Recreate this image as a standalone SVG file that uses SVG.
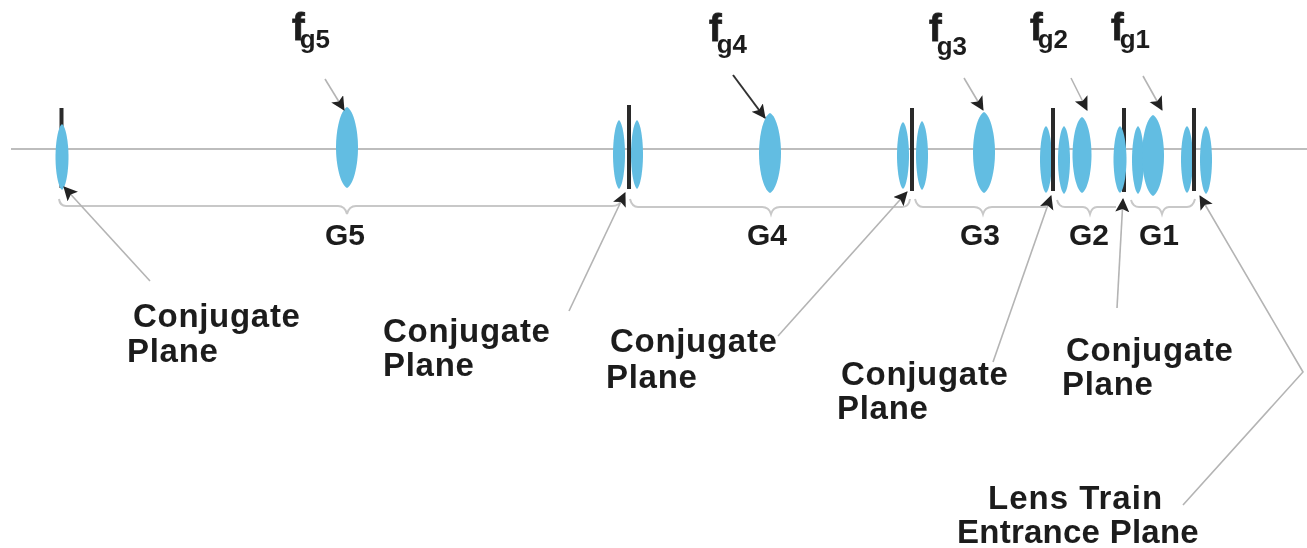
<svg xmlns="http://www.w3.org/2000/svg" width="1307" height="548" viewBox="0 0 1307 548">
<style>
text{font-family:"Liberation Sans",Arial,sans-serif;font-weight:700;fill:#1f1f1f}
.l{font-size:33px;letter-spacing:.7px}
.g{font-size:30px}
.f{font-size:38px;stroke:#1f1f1f;stroke-width:.8px}
.s{font-size:26px;stroke:none}
.lens{fill:#62bde2}
.bar{stroke:#2b2b2b;stroke-width:4;fill:none}
.ax{stroke:#bdbdbd;stroke-width:2;fill:none}
.br{stroke:#c8c8c8;stroke-width:2;fill:none}
.ln{stroke:#b4b4b4;stroke-width:1.6;fill:none}
.dk{stroke:#333;stroke-width:2;fill:none}
</style>
<defs>
<path id="lens" class="lens" d="M0 0C.6 .04 1 .28 1 .5C1 .72 .6 .96 0 1C-.6 .96 -1 .72 -1 .5C-1 .28 -.6 .04 0 0Z"/>
<marker id="a" markerUnits="userSpaceOnUse" markerWidth="16" markerHeight="16" refX="13" refY="7" orient="auto"><path d="M0 0L14 7L0 14L3 7Z" fill="#222"/></marker>
<filter id="b" x="-2%" y="-2%" width="104%" height="104%"><feGaussianBlur stdDeviation="0.7"/></filter>
</defs>
<g filter="url(#b)">
<path class="ax" d="M11 149H1307"/>
<g id="plane-5"><path class="bar" d="M61.500 108V188"/><use href="#lens" transform="translate(62 124) scale(6.500 66)"/></g>
<g id="lens-g5"><use href="#lens" transform="translate(347 107) scale(11 81)"/></g>
<g id="plane-4"><use href="#lens" transform="translate(619 120) scale(6 69)"/><use href="#lens" transform="translate(637 120) scale(6 69)"/><path class="bar" d="M629 105V189"/></g>
<g id="lens-g4"><use href="#lens" transform="translate(770 113) scale(11 80)"/></g>
<g id="plane-3"><use href="#lens" transform="translate(903 122) scale(6 67)"/><use href="#lens" transform="translate(922 121) scale(6 69)"/><path class="bar" d="M912 108V191"/></g>
<g id="lens-g3"><use href="#lens" transform="translate(984 112) scale(11 81)"/></g>
<g id="plane-2"><use href="#lens" transform="translate(1046 126) scale(6 67)"/><use href="#lens" transform="translate(1064 126) scale(6 68)"/><path class="bar" d="M1053 108V191"/></g>
<g id="lens-g2"><use href="#lens" transform="translate(1082 117) scale(9.500 76)"/></g>
<g id="plane-1"><path class="bar" d="M1124 108V192"/><use href="#lens" transform="translate(1120 126) scale(6.500 67)"/><use href="#lens" transform="translate(1138 126) scale(6 68)"/></g>
<g id="lens-g1"><use href="#lens" transform="translate(1153 115) scale(11 81)"/></g>
<g id="entrance-plane"><use href="#lens" transform="translate(1187 126) scale(6 67)"/><use href="#lens" transform="translate(1206 126) scale(6 68)"/><path class="bar" d="M1194 108V191"/></g>
<g id="connectors">
<path class="br" d="M59 199Q60 206 66 206H338Q345 206 347 214Q349 206 356 206H612Q620 206 622 199"/>
<path class="br" d="M630 199Q632 207 638 207H762Q769 207 771 214Q773 207 780 207H902Q909 207 910 199"/>
<path class="br" d="M915 199Q917 207 923 207H974Q981 207 983 214Q985 207 992 207H1046"/>
<path class="br" d="M1057 200Q1059 207 1065 207H1083Q1088 207 1090 214Q1092 207 1097 207H1116"/>
<path class="br" d="M1131 200Q1133 207 1139 207H1155Q1160 207 1162 214Q1164 207 1169 207H1187Q1193 207 1195 199"/>
<g marker-end="url(#a)">
<path class="ln" d="M150 281L64 187"/>
<path class="ln" d="M569 311L625 193"/>
<path class="ln" d="M778 336L907 192"/>
<path class="ln" d="M993 362L1051 196"/>
<path class="ln" d="M1117 308L1123 199"/>
<path class="ln" d="M1183 505L1303 372L1200 196"/>
<path class="ln" d="M325 79L344 110"/>
<path class="dk" d="M733 75L765 118"/>
<path class="ln" d="M964 78L983 110"/>
<path class="ln" d="M1071 78L1087 110"/>
<path class="ln" d="M1143 76L1162 110"/>
</g>
</g>
<g id="labels">
<text class="f" x="292" y="40">f<tspan class="s" dx="-5" dy="8">g5</tspan></text>
<text class="f" x="709" y="41">f<tspan class="s" dx="-5" dy="12">g4</tspan></text>
<text class="f" x="929" y="41">f<tspan class="s" dx="-5" dy="14">g3</tspan></text>
<text class="f" x="1030" y="40">f<tspan class="s" dx="-5" dy="8">g2</tspan></text>
<text class="f" x="1111" y="40">f<tspan class="s" dx="-4" dy="8">g1</tspan></text>
<text class="g" x="325" y="245">G5</text>
<text class="g" x="747" y="245">G4</text>
<text class="g" x="960" y="245">G3</text>
<text class="g" x="1069" y="245">G2</text>
<text class="g" x="1139" y="245">G1</text>
<text class="l" x="133" y="327">Conjugate</text><text class="l" x="127" y="362">Plane</text>
<text class="l" x="383" y="342">Conjugate</text><text class="l" x="383" y="376">Plane</text>
<text class="l" x="610" y="352">Conjugate</text><text class="l" x="606" y="388">Plane</text>
<text class="l" x="841" y="385">Conjugate</text><text class="l" x="837" y="419">Plane</text>
<text class="l" x="1066" y="361">Conjugate</text><text class="l" x="1062" y="395">Plane</text>
<text class="l" x="988" y="509" style="letter-spacing:1px">Lens Train</text><text class="l" x="957" y="543" style="letter-spacing:.25px">Entrance Plane</text>
</g>
</g>
</svg>
